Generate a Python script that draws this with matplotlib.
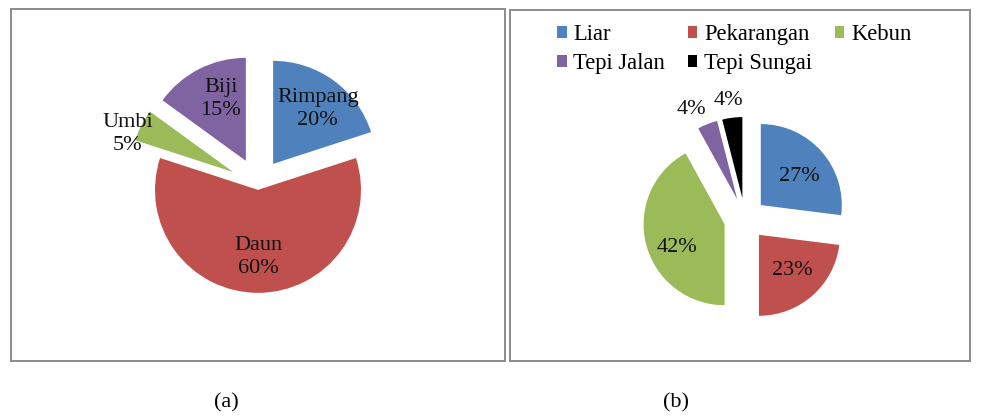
import matplotlib
matplotlib.use("Agg")
import matplotlib.pyplot as plt
import numpy as np

plt.rcParams["font.family"] = ["Liberation Serif", "DejaVu Serif"]

# (a) plant part used
parts = ["Rimpang", "Daun", "Umbi", "Biji"]
parts_pct = [20, 60, 5, 15]

# (b) where the plants were found
places = ["Liar", "Pekarangan", "Kebun", "Tepi Jalan", "Tepi Sungai"]
places_pct = [27, 23, 42, 4, 4]

panel_labels = ["(a)", "(b)"]

BLUE, RED, GREEN, PURPLE, BLACK = "#4F81BD", "#C0504D", "#9BBB59", "#8064A2", "#000000"
FS = 16
W, H = 982, 419


def panel(fig, box, center, radius):
    """Axes over a pixel box (x0, y0, x1, y1 in image coords), 1 unit = pie radius."""
    x0, y0, x1, y1 = box
    ax = fig.add_axes([x0 / W, (H - y1) / H, (x1 - x0) / W, (y1 - y0) / H])
    cx, cy = center[0] - x0, y1 - center[1]
    return ax, (-cx / radius, (x1 - x0 - cx) / radius), (-cy / radius, (y1 - y0 - cy) / radius)


def finish(ax, xlim, ylim):
    ax.set_aspect("auto")
    ax.set_xlim(*xlim)
    ax.set_ylim(*ylim)
    ax.set_xticks([])
    ax.set_yticks([])
    ax.set_frame_on(True)
    for s in ax.spines.values():
        s.set_visible(True)
        s.set_color("#8c8c8c")
        s.set_linewidth(1.4)


def place_labels(ax, wedges, texts, spots):
    for w, txt, (dist, ang) in zip(wedges, texts, spots):
        a = np.deg2rad(ang)
        x = w.center[0] + dist * w.r * np.cos(a)
        y = w.center[1] + dist * w.r * np.sin(a)
        ax.text(x, y, txt, ha="center", va="center", fontsize=FS,
                linespacing=1.3, color="#111111")


fig = plt.figure(figsize=(W / 100, H / 100), dpi=100)

# ---- (a)
ax1, xl, yl = panel(fig, (11, 9, 505, 361), (258, 184.7), 103)
wedges1, _ = ax1.pie(parts_pct, colors=[BLUE, RED, GREEN, PURPLE],
                     startangle=90, counterclock=False,
                     explode=[0.25, 0.05, 0.27, 0.26])
finish(ax1, xl, yl)
place_labels(ax1, wedges1, [f"{n}\n{v}%" for n, v in zip(parts, parts_pct)],
             [(0.69, 51), (0.65, -90), (1.09, 160), (0.65, 112)])

# ---- (b)
ax2, xl, yl = panel(fig, (510, 10, 970, 361), (745, 219), 81)
wedges2, _ = ax2.pie(places_pct, colors=[BLUE, RED, GREEN, PURPLE, BLACK],
                     startangle=90, counterclock=False,
                     explode=[0.26] * 5)
finish(ax2, xl, yl)
place_labels(ax2, wedges2, [f"{v}%" for v in places_pct],
             [(0.59, 37), (0.6, -47), (0.65, 206), (1.24, 117), (1.22, 98)])

# legend laid out row-wise like Excel (column-major fill, so reorder)
order = [0, 3, 1, 4, 2]
fig.legend([wedges2[i] for i in order], [places[i] for i in order],
           ncol=3, loc="upper left", bbox_to_anchor=(557 / W, 1 - 24 / H),
           frameon=False, fontsize=16.3, borderpad=0, borderaxespad=0,
           handlelength=0.42, handleheight=0.42, handletextpad=0.3,
           columnspacing=1.0, labelspacing=0.35)

fig.text(226 / W, 1 - 403 / H, panel_labels[0], ha="center", va="center", fontsize=16)
fig.text(676 / W, 1 - 403 / H, panel_labels[1], ha="center", va="center", fontsize=16)

fig.savefig("out.png", dpi=100)
